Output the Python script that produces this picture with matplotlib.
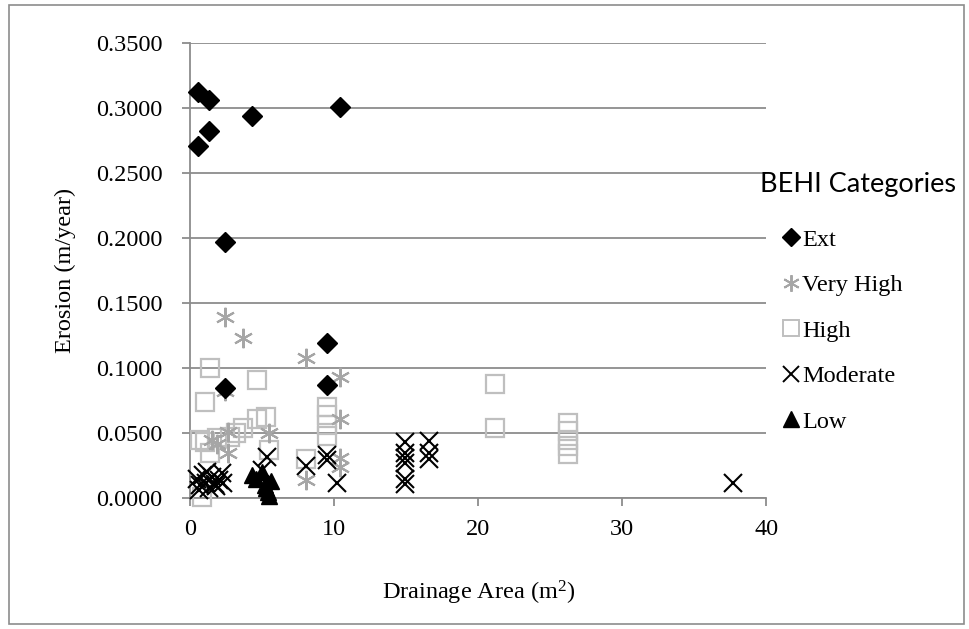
import matplotlib
matplotlib.use('Agg')
import matplotlib.pyplot as plt
from matplotlib.lines import Line2D
from matplotlib.patches import Rectangle

matplotlib.rcParams['font.family'] = ['Liberation Serif', 'DejaVu Serif']
matplotlib.rcParams['font.size'] = 17.5
matplotlib.rcParams['mathtext.default'] = 'regular'

# Drainage area (m^2) and erosion (m/year) per BEHI category
ext_x = [0.58, 1.32, 1.32, 0.58, 4.3, 10.4, 2.43, 9.5, 9.5, 2.43]
ext_y = [0.312, 0.306, 0.282, 0.271, 0.294, 0.301, 0.197, 0.119, 0.087, 0.085]

vhigh_x = [2.43, 3.7, 8.05, 10.4, 2.43, 10.4, 5.5, 2.6, 1.5, 2.6, 8.05, 10.4, 10.4, 1.9]
vhigh_y = [0.139, 0.123, 0.108, 0.093, 0.082, 0.061, 0.050, 0.051, 0.045, 0.035, 0.014, 0.031, 0.024, 0.042]

high_x = [1.4, 4.65, 1.04, 9.5, 9.5, 5.3, 4.65, 3.7, 9.5, 0.7, 1.9, 2.8, 1.4, 5.5,
          8.05, 0.8, 21.2, 21.2, 26.2, 26.2, 26.2, 26.2, 26.2, 9.5, 1.04, 3.2]
high_y = [0.100, 0.091, 0.074, 0.070, 0.064, 0.062, 0.061, 0.054, 0.048, 0.045, 0.046,
          0.047, 0.035, 0.037, 0.030, 0.001, 0.088, 0.054, 0.058, 0.052, 0.045, 0.040,
          0.034, 0.056, 0.043, 0.050]

mod_x = [14.9, 14.9, 14.9, 14.9, 14.9, 14.9, 16.6, 16.6, 16.6, 37.7, 9.5, 10.2, 8.05,
         5.35, 5.0, 9.5, 0.5, 0.7, 0.9, 1.1, 1.3, 1.5, 1.7, 2.0, 2.2, 0.6, 1.2, 1.8, 2.3]
mod_y = [0.043, 0.035, 0.031, 0.027, 0.015, 0.011, 0.044, 0.035, 0.030, 0.012, 0.029,
         0.012, 0.025, 0.032, 0.022, 0.033, 0.015, 0.010, 0.018, 0.012, 0.008, 0.016,
         0.011, 0.014, 0.019, 0.006, 0.020, 0.009, 0.012]

low_x = [4.3, 4.6, 5.0, 5.2, 5.4, 5.5, 5.6, 5.3]
low_y = [0.018, 0.015, 0.020, 0.010, 0.005, 0.002, 0.013, 0.008]

grid_c = '#8c8c8c'
vh_c = '#a6a6a6'
hi_c = '#bfbfbf'
star = (6, 2, 0)

fig = plt.figure(figsize=(9.7, 6.29), dpi=100)
ax = fig.add_axes([0.196, 0.208, 0.594, 0.724])

ax.plot(high_x, high_y, ls='none', marker='s', ms=12.5, mfc='none', mec=hi_c,
        mew=1.6, clip_on=False, zorder=3)
ax.plot(vhigh_x, vhigh_y, ls='none', marker=star, ms=14, mec=vh_c, mew=1.5,
        clip_on=False, zorder=4)
ax.plot(mod_x, mod_y, ls='none', marker='x', ms=13, mec='black', mew=1.5,
        clip_on=False, zorder=5)
ax.plot(low_x, low_y, ls='none', marker='^', ms=11, color='black',
        clip_on=False, zorder=6)
ax.plot(ext_x, ext_y, ls='none', marker='D', ms=10, color='black',
        clip_on=False, zorder=7)

ax.set_xlim(0, 40)
ax.set_ylim(0, 0.35)
ax.set_xticks([0, 10, 20, 30, 40])
ax.set_yticks([i * 0.05 for i in range(8)])
ax.set_yticklabels(['%.4f' % (i * 0.05) for i in range(8)])
ax.grid(axis='y', color=grid_c, lw=1.3)
ax.set_axisbelow(True)
for s in ['top', 'right']:
    ax.spines[s].set_visible(False)
for s in ['left', 'bottom']:
    ax.spines[s].set_color(grid_c)
    ax.spines[s].set_linewidth(1.3)
ax.tick_params(axis='both', direction='out', length=6, color=grid_c, width=1.3)
ax.tick_params(axis='y', pad=14)
ax.tick_params(axis='x', pad=9)
ax.set_xlabel('Drainage Area (m$^{2}$)', labelpad=28)
ax.set_ylabel('Erosion (m/year)', labelpad=14)

handles = [
    Line2D([], [], ls='none', marker='D', ms=9, color='black'),
    Line2D([], [], ls='none', marker=star, ms=12, mec=vh_c, mew=1.4),
    Line2D([], [], ls='none', marker='s', ms=12, mfc='none', mec=hi_c, mew=1.4),
    Line2D([], [], ls='none', marker='x', ms=11, mec='black', mew=1.4),
    Line2D([], [], ls='none', marker='^', ms=11, color='black'),
]
labels = ['Ext', 'Very High', 'High', 'Moderate', 'Low']
fig.legend(handles, labels, loc='upper left', bbox_to_anchor=(0.797, 0.652),
           frameon=False, handlelength=0.7, handletextpad=0.1, labelspacing=0.97,
           borderaxespad=0)
fig.text(0.783, 0.706, 'BEHI Categories', family='Lato', fontsize=19.5,
         va='center', ha='left')

fig.patches.append(Rectangle((0.009, 0.008), 0.985, 0.984, transform=fig.transFigure,
                             fill=False, ec=grid_c, lw=1.2))

fig.savefig('out.png', dpi=100)
